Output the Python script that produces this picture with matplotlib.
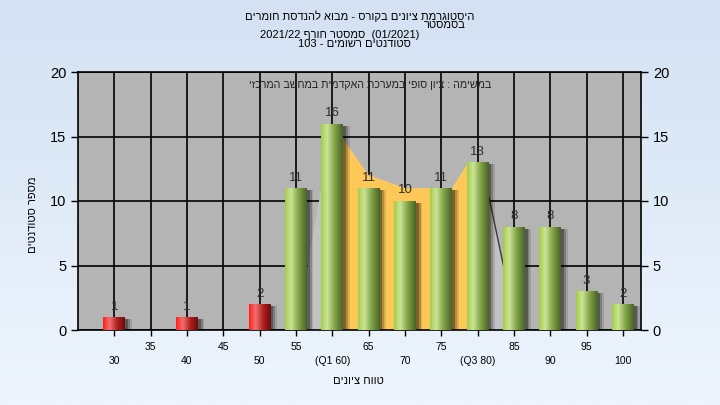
import numpy as np
import matplotlib
matplotlib.use("Agg")
import matplotlib.pyplot as plt
from matplotlib.colors import LinearSegmentedColormap
from matplotlib.patches import Rectangle, Polygon

HEB = ["Liberation Sans Narrow", "Liberation Sans", "DejaVu Sans"]
plt.rcParams["font.family"] = HEB

# --- data -------------------------------------------------------------
grades = [30, 35, 40, 45, 50, 55, 60, 65, 70, 75, 80, 85, 90, 95, 100]
counts = [1, 0, 1, 0, 2, 11, 16, 11, 10, 11, 13, 8, 8, 3, 2]
pass_grade = 55

row1_ticks = [35, 45, 55, 65, 75, 85, 95]
row2_ticks = [30, 40, 50, 60, 70, 80, 90, 100]
row2_labels = ["30", "40", "50", "(Q1 60)", "70", "(Q3 80)", "90", "100"]

# inter-quartile band (yellow) and spread band (light gray)
iqr_x = [60, 65, 70, 76.5, 78.75, 80, 80, 60]
iqr_y = [16, 12, 11, 11, 13, 13, 0, 0]
spread_x = [56.3, 56.3, 58.8, 60, 65, 70, 76.5, 78.75, 80, 81.65, 83.9, 83.9]
spread_y = [0, 4, 12, 16, 12, 11, 11, 13, 13, 10.1, 4.1, 0]

title_lines = [
    "היסטוגרמת ציונים בקורס - מבוא להנדסת חומרים",
    "בסמסטר",
    "(01/2021)  סמסטר חורף 2021/22",
    "סטודנטים רשומים - 103",
]
note = "במשימה : ציון סופי במערכת האקדמית במחשב המרכזי"
ylabel = "מספר סטודנטים"
xlabel = "טווח ציונים"


def rtl(s):
    # crude visual ordering: reverse hebrew, keep runs of latin/digits intact
    out, buf = [], ""
    for ch in s:
        if "\u0590" <= ch <= "\u05ff" or ch in " -":
            if buf:
                out.append(buf)
                buf = ""
            out.append(ch)
        else:
            buf += ch
    if buf:
        out.append(buf)
    return "".join(out[::-1])


def semester_line():
    return "2021/22 " + "סמסטר חורף"[::-1] + "  (01/2021)"


fig = plt.figure(figsize=(7.2, 4.05), dpi=100)

# background gradient
bg = fig.add_axes([0, 0, 1, 1], zorder=-5)
grad = np.linspace(0, 1, 256)[:, None]
bg_cmap = LinearSegmentedColormap.from_list("bg", ["#d3e1f3", "#eef5fd"])
bg.imshow(grad, aspect="auto", cmap=bg_cmap, extent=[0, 1, 0, 1])
bg.axis("off")

ax = fig.add_axes([78 / 720, 75 / 405, 563 / 720, 258 / 405])
ax.set_facecolor("#b4b4b4")

green = LinearSegmentedColormap.from_list(
    "g", [(0, "#a2cc48"), (0.28, "#cde497"), (0.6, "#86a84a"), (1, "#4a6426")])
red = LinearSegmentedColormap.from_list(
    "r", [(0, "#ff1f1f"), (0.3, "#f27070"), (0.65, "#b02020"), (1, "#6e0c0c")])

ax.add_patch(Polygon(list(zip(spread_x, spread_y)), closed=True,
                     facecolor="#c2c2c2", edgecolor="none", zorder=1))
ax.plot(spread_x[8:11], spread_y[8:11], color="#3c3c3c", lw=1.0, zorder=1.5)
ax.add_patch(Polygon(list(zip(iqr_x, iqr_y)), closed=True,
                     facecolor="#fdc858", edgecolor="none", zorder=2))

w = 3.0
shade = np.linspace(0, 1, 64)[None, :]
for g, c in zip(grades, counts):
    if c == 0:
        continue
    x0 = g - w / 2
    for k, a in enumerate([0.12, 0.2, 0.3]):
        off = 0.9 - 0.25 * k
        ax.add_patch(Rectangle((x0 + off, 0), w, c - 0.15, facecolor="black",
                               alpha=a, edgecolor="none", zorder=3))
    rect = Rectangle((x0, 0), w, c, facecolor="none", edgecolor="none", zorder=4)
    ax.add_patch(rect)
    im = ax.imshow(shade, cmap=green if g >= pass_grade else red, aspect="auto",
                   extent=[x0, x0 + w, 0, c], zorder=4, interpolation="bilinear")
    im.set_clip_path(rect)
    ax.text(g, c + 0.35, str(c), ha="center", va="bottom", fontsize=9.5,
            color="#2e2e2e", zorder=6)

ax.set_xlim(25, 102.5)
ax.set_ylim(0, 20)
ax.set_yticks([0, 5, 10, 15, 20])
ax.set_xticks(row2_ticks)
ax.set_xticklabels(row2_labels)
ax.set_xticks(row1_ticks, minor=True)
ax.set_xticklabels([str(t) for t in row1_ticks], minor=True)
ax.tick_params(axis="x", which="major", length=4, pad=15, labelsize=7.5, width=1)
ax.tick_params(axis="x", which="minor", length=4, pad=5, labelsize=7.5, width=1)
ax.tick_params(axis="y", length=5, labelsize=10.5, right=True, labelright=True, width=1)
ax.grid(True, which="both", color="black", lw=1.2, zorder=0.5)
ax.set_axisbelow(True)
for s in ax.spines.values():
    s.set_color("black")
    s.set_linewidth(1.2)

ax.text(0.518, 0.95, rtl(note), transform=ax.transAxes, ha="center", va="center",
        fontsize=7.7, color="#222222", zorder=7)

fig.text(0.5, 1 - 16 / 405, rtl(title_lines[0]), ha="center", va="center", fontsize=8)
fig.text(445 / 720, 1 - 25.5 / 405, rtl(title_lines[1]), ha="center", va="center", fontsize=8)
fig.text(340 / 720, 1 - 35 / 405, semester_line(), ha="center", va="center", fontsize=8)
fig.text(354 / 720, 1 - 44 / 405, rtl(title_lines[3]), ha="center", va="center", fontsize=8)

fig.text(33 / 720, 1 - 215 / 405, rtl(ylabel), rotation=90, ha="center", va="center", fontsize=8)
fig.text(358 / 720, 1 - 381 / 405, rtl(xlabel), ha="center", va="center", fontsize=8)

fig.savefig("out.png", dpi=100)
